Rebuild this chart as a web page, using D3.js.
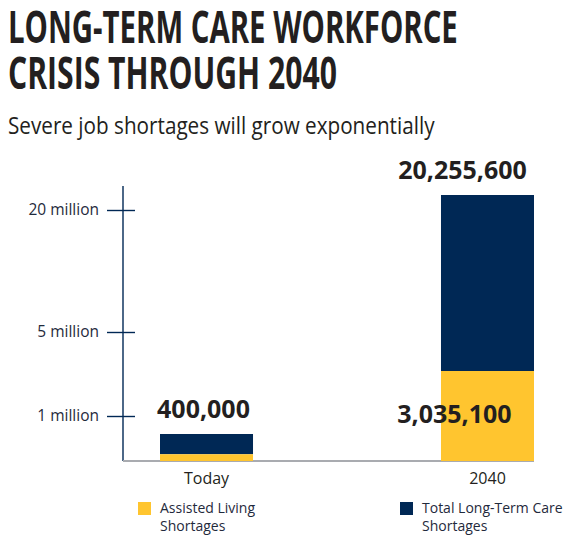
<!DOCTYPE html>
<html>
<head>
<meta charset="utf-8">
<script src="https://cdn.jsdelivr.net/npm/d3@7"></script>
<style>
  html, body { margin: 0; padding: 0; background: #ffffff; }
  svg { display: block; }
  text { font-family: "Open Sans", "Noto Sans", sans-serif; }
</style>
</head>
<body>
<svg id="chart" width="574" height="543"></svg>
<script>
// ---- data ----
const categories = ["Today", "2040"];
const assistedLiving = [100000, 3035100];
const totalLTC = [400000, 20255600];
const totalLabels = ["400,000", "20,255,600"];
const assistedLabels = ["", "3,035,100"];
const tickValues = [1000000, 5000000, 20000000];
const tickLabels = ["1 million", "5 million", "20 million"];
// the original axis is drawn non-proportionally; these stops calibrate it
const axisStops = [0, 400000, 1000000, 3035100, 5000000, 20000000, 20255600, 21500000];
const legendItems = [
  { lines: ["Assisted Living", "Shortages"], color: "#FFC52F" },
  { lines: ["Total Long-Term Care", "Shortages"], color: "#002855" }
];

const svg = d3.select("#chart");
const navy = "#002855", yellow = "#FFC52F", ink = "#231f20";

// ---- title (condensed via horizontal scale) ----
function fitText(str, x0, y0, width, size, family, weight) {
  const t = svg.append("text")
    .attr("font-family", family).attr("font-weight", weight)
    .attr("font-size", size).attr("fill", ink).text(str);
  const len = t.node().getComputedTextLength();
  t.attr("transform", `translate(${x0},${y0}) scale(${width / len},1)`);
  return t;
}
const condensed = "'Liberation Sans Narrow', 'DejaVu Sans Condensed', sans-serif";
fitText("LONG-TERM CARE WORKFORCE", 8, 42.5, 450, 45.5, condensed, 700);
fitText("CRISIS THROUGH 2040", 8, 89, 329, 45.5, condensed, 700);
fitText("Severe job shortages will grow exponentially", 8, 134, 427, 23.5, "'Open Sans', sans-serif", 400);

// ---- scales ----
const x = d3.scaleBand().domain(categories)
  .range([123, 571]).paddingInner(0.669).paddingOuter(0.1317);
const yStopPx = [461, 434, 416, 371, 332, 210, 195, 186];
const y = d3.scaleLinear().domain(axisStops).range(yStopPx);

// ---- y axis ----
const axisG = svg.append("g").attr("transform", "translate(123,0)");
axisG.call(d3.axisLeft(y).tickValues(tickValues)
  .tickFormat((d, i) => tickLabels[i]).tickSize(16).tickPadding(8));
axisG.select(".domain").remove();
axisG.selectAll(".tick line").attr("x1", 12).attr("x2", -16)
  .attr("stroke", navy).attr("stroke-width", 1.4);
axisG.selectAll(".tick text").attr("font-family", "'Open Sans', sans-serif")
  .attr("font-size", 15.5).attr("fill", "#1f2a3c");
axisG.append("line").attr("x1", 0).attr("x2", 0)
  .attr("y1", y(axisStops[axisStops.length - 1])).attr("y2", y(0))
  .attr("stroke", navy).attr("stroke-width", 1.4);

// baseline
svg.append("line").attr("x1", 123).attr("x2", x("2040") + x.bandwidth())
  .attr("y1", y(0)).attr("y2", y(0))
  .attr("stroke", "#a9abb0").attr("stroke-width", 2);

// ---- bars ----
const data = categories.map((c, i) => ({ c, a: assistedLiving[i], t: totalLTC[i], i }));
svg.selectAll("rect.total").data(data).join("rect").attr("class", "total")
  .attr("x", d => x(d.c)).attr("width", x.bandwidth())
  .attr("y", d => y(d.t)).attr("height", d => y(d.a) - y(d.t))
  .attr("fill", navy);
svg.selectAll("rect.assist").data(data).join("rect").attr("class", "assist")
  .attr("x", d => x(d.c)).attr("width", x.bandwidth())
  .attr("y", d => y(d.a)).attr("height", d => y(0) - y(d.a))
  .attr("fill", yellow);

// value labels
const labelOffset = [-3, -25];
svg.selectAll("text.tot").data(data).join("text").attr("class", "tot")
  .attr("x", d => x(d.c) + x.bandwidth() / 2 + labelOffset[d.i])
  .attr("y", d => y(d.t) - 16)
  .attr("text-anchor", "middle").attr("font-weight", 700)
  .attr("font-size", 25).attr("fill", ink)
  .text(d => totalLabels[d.i]);
svg.selectAll("text.asl").data(data.filter(d => assistedLabels[d.i])).join("text").attr("class", "asl")
  .attr("x", d => x(d.c) + x.bandwidth() / 2 + labelOffset[d.i] - 8)
  .attr("y", d => (y(d.a) + y(0)) / 2 + 7)
  .attr("text-anchor", "middle").attr("font-weight", 700)
  .attr("font-size", 25).attr("fill", ink)
  .text(d => assistedLabels[d.i]);

// category labels
svg.selectAll("text.cat").data(categories).join("text").attr("class", "cat")
  .attr("x", d => x(d) + x.bandwidth() / 2)
  .attr("y", 484)
  .attr("text-anchor", "middle").attr("font-size", 16).attr("fill", ink)
  .text(d => d);

// ---- legend ----
const legendX = [138, 400];
const lg = svg.selectAll("g.leg").data(legendItems).join("g").attr("class", "leg")
  .attr("transform", (d, i) => `translate(${legendX[i]},502)`);
lg.append("rect").attr("width", 13).attr("height", 13).attr("fill", d => d.color);
lg.each(function(d) {
  const g = d3.select(this);
  d.lines.forEach((ln, j) => {
    g.append("text").attr("x", 22).attr("y", 11 + j * 18)
      .attr("font-size", 14).attr("fill", "#1f2a3c").text(ln);
  });
});
</script>
</body>
</html>
